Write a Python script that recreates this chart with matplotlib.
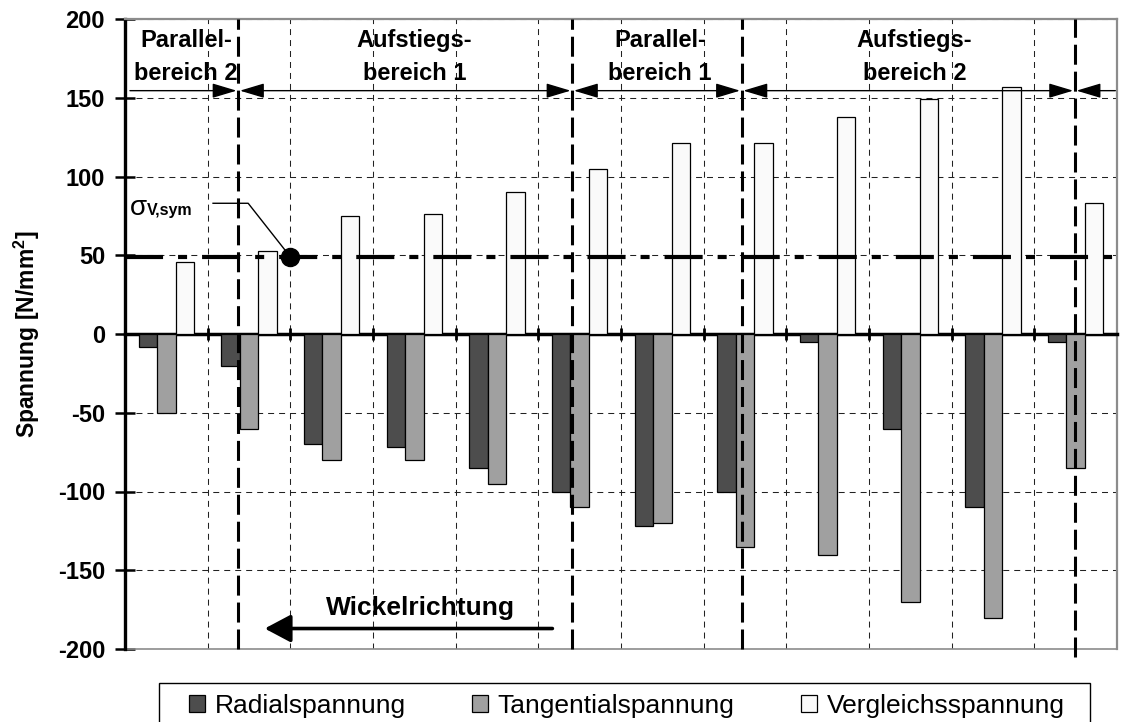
import matplotlib
matplotlib.use('Agg')
import matplotlib.pyplot as plt
import matplotlib.patches as mpatches
import numpy as np

plt.rcParams['font.family'] = ['Liberation Sans', 'DejaVu Sans']
plt.rcParams['lines.scale_dashes'] = False
plt.rcParams['axes.unicode_minus'] = False
plt.rcParams['mathtext.fontset'] = 'custom'
plt.rcParams['mathtext.rm'] = 'Liberation Sans:bold'
plt.rcParams['mathtext.bf'] = 'Liberation Sans:bold'

# data (N/mm^2), 12 positions along the winding
positions = list(range(12))
radial = [-8, -20, -70, -72, -85, -100, -122, -100, -5, -60, -110, -5]
tangential = [-50, -60, -80, -80, -95, -110, -120, -135, -140, -170, -180, -85]
vergleich = [46, 53, 75, 76, 90, 105, 121, 121, 138, 149, 157, 83]
series_names = ['Radialspannung', 'Tangentialspannung', 'Vergleichsspannung']
y_ticks = [-200, -150, -100, -50, 0, 50, 100, 150, 200]
sigma_v_sym = 49

# section borders and titles
section_bounds = [0.87, 4.91, 6.96, 10.99]
section_top = ['Parallel-', 'Aufstiegs-', 'Parallel-', 'Aufstiegs-']
section_bottom = ['bereich 2', 'bereich 1', 'bereich 1', 'bereich 2']
section_x = [0.24, 3.0, 5.97, 9.05]

fig = plt.figure(figsize=(11.22, 7.22), dpi=100)
ax = fig.add_axes([125/1122, 1-649/722, 992/1122, 630/722])

x = np.array(positions)
w = 0.222
ax.bar(x - w, radial, w, color='#4d4d4d', edgecolor='black', linewidth=0.9, label=series_names[0], zorder=3)
ax.bar(x, tangential, w, color='#a0a0a0', edgecolor='black', linewidth=0.9, label=series_names[1], zorder=3)
ax.bar(x + w, vergleich, w, color='#fafafa', edgecolor='black', linewidth=0.9, label=series_names[2], zorder=3)

ax.set_xlim(-0.5, 11.5)
ax.set_ylim(-200, 200)
ax.set_yticks(y_ticks)
ax.set_xticks(np.arange(0.5, 11, 1))
ax.set_axisbelow(True)
ax.grid(True, color='#222222', linewidth=0.75, linestyle=(0, (4.3, 3.6)))

ax.spines['bottom'].set_position(('data', 0))
ax.spines['bottom'].set_linewidth(2.5)
ax.spines['left'].set_linewidth(2.4)
for s in ['top', 'right']:
    ax.spines[s].set_color('#8c8c8c')
    ax.spines[s].set_linewidth(1.6)
ax.axhline(-200, color='#8c8c8c', linewidth=1.2, clip_on=False, zorder=2)

ax.tick_params(axis='y', direction='inout', length=13.7, width=1.8, labelsize=17, pad=7.5)
ax.tick_params(axis='x', direction='inout', length=8.4, width=2, labelbottom=False)
for lab in ax.get_yticklabels():
    lab.set_fontweight('bold')

ax.set_ylabel(r'Spannung [N/mm$^{\mathbf{2}}$]', fontsize=16.5, fontweight='bold')
ax.yaxis.set_label_coords(-0.084, 0.5)

# sigma_V,sym line and marker
ax.axhline(sigma_v_sym, color='black', linewidth=3.0, dashes=(27.4, 10.8, 6.5, 10.8), zorder=5)
ax.plot(1.5, sigma_v_sym, 'o', color='black', markersize=13, zorder=7)
ax.plot([0.565, 0.99, 1.5], [83, 83, sigma_v_sym], color='black', linewidth=1.0, zorder=6)
ax.text(-0.445, 75.6, 'σ', fontsize=20, ha='left', va='baseline')
ax.text(-0.235, 75.6, 'V,sym', fontsize=11.5, fontweight='bold', ha='left', va='baseline')

# section borders
for i, b in enumerate(section_bounds):
    ymin = -0.012 if i == len(section_bounds) - 1 else 0
    ax.axvline(b, ymin=ymin, color='black', linewidth=2.2, dashes=(14.4, 5.0), zorder=6, clip_on=False)

# section arrows and titles
edges = [-0.5] + section_bounds + [11.5]
eps = 0.02
for i in range(len(edges) - 1):
    a, b = edges[i], edges[i + 1]
    if i == 0:
        style, a = '-|>', a + 0.04
    elif i == len(edges) - 2:
        style = '<|-'
    else:
        style = '<|-|>'
    ax.annotate('', xy=(b - eps, 154.5), xytext=(a + eps, 154.5),
                arrowprops=dict(arrowstyle=style + ',head_length=1.5,head_width=0.45',
                                mutation_scale=10, color='black', lw=1.0,
                                shrinkA=0, shrinkB=0), annotation_clip=False)
for sx, t1, t2 in zip(section_x, section_top, section_bottom):
    ax.text(sx, 182.4, t1, fontsize=17, fontweight='bold', ha='center', va='baseline')
    ax.text(sx, 161.3, t2, fontsize=17, fontweight='bold', ha='center', va='baseline')

# winding direction
ax.annotate('', xy=(1.19, -187), xytext=(4.67, -187),
            arrowprops=dict(arrowstyle='-|>,head_length=1.6,head_width=0.85',
                            mutation_scale=10, color='black', lw=2.6,
                            shrinkA=0, shrinkB=0))
ax.text(3.07, -174.2, 'Wickelrichtung', fontsize=19, fontweight='bold', ha='center', va='center')

# legend (box runs past the lower edge of the picture)
fig.patches.append(mpatches.Rectangle((159/1122, -0.02), 931/1122, 0.02 + (722-682.7)/722,
                                      transform=fig.transFigure, facecolor='white',
                                      edgecolor='black', linewidth=1.0))
fig.legend(loc='center', bbox_to_anchor=(0.5586, 1-706/722), ncol=3, fontsize=19,
           frameon=False, handlelength=0.62, handleheight=0.62, handletextpad=0.36,
           columnspacing=2.5, borderpad=0, borderaxespad=0)

fig.savefig('out.png', dpi=100, facecolor='white')
